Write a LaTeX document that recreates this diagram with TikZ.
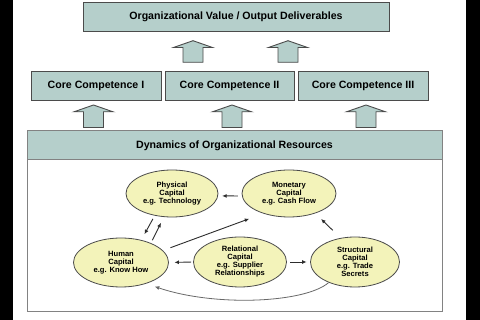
\documentclass[tikz,border=0pt]{standalone}
\usepackage{fontspec}
\setmainfont{Liberation Sans}
\usetikzlibrary{shapes.geometric,arrows.meta}
\definecolor{tealbox}{RGB}{181,207,203}
\definecolor{ellfill}{RGB}{243,243,186}
\definecolor{edgecol}{RGB}{75,75,75}
\definecolor{framecol}{RGB}{130,130,130}
\definecolor{arrcol}{RGB}{45,45,45}
\definecolor{curvecol}{RGB}{105,105,105}
\begin{document}
\begin{tikzpicture}[x=1pt,y=-1pt,
  box/.style={draw=edgecol,fill=tealbox,line width=0.9pt,inner sep=0pt,
    font=\fontsize{10.6}{12}\selectfont\bfseries},
  res/.style={ellipse,draw=edgecol,fill=ellfill,line width=0.8pt,inner sep=0pt,
    align=center,font=\fontsize{7.6}{8}\selectfont\bfseries},
  arr/.style={draw=arrcol,line width=0.9pt,-{Latex[length=4.5pt,width=4pt]}},
  blkarrow/.style={draw=edgecol,fill=tealbox,line width=0.9pt},
  pics/blockup/.style={code={
    \draw[blkarrow] (-10,#1) -- (-10,6.8) -- (-19.5,6.8) -- (0,0) -- (19.5,6.8)
      -- (10,6.8) -- (10,#1) -- cycle;}}
]
\useasboundingbox (0,0) rectangle (480,320);
\fill[white] (0,0) rectangle (480,320);
\fill[black] (0,0) rectangle (13,320);
\fill[black] (466,0) rectangle (480,320);

% top output box
\node[box,minimum width=306pt,minimum height=29pt] (out) at (236,16.5)
  {Organizational Value / Output Deliverables};

% upper block arrows
\pic at (193,40.7) {blockup=21.6};
\pic at (288,40.7) {blockup=21.6};

% core competences
\node[box,minimum width=130pt,minimum height=29pt] (c1) at (96,85.5) {Core Competence I};
\node[box,minimum width=129pt,minimum height=29pt] (c2) at (229.5,85.5) {Core Competence II};
\node[box,minimum width=130pt,minimum height=29pt] (c3) at (363,85.5) {Core Competence III};

% lower block arrows
\pic at (93.5,105) {blockup=22.5};
\pic at (232,105) {blockup=22.5};
\pic at (366,105) {blockup=22.5};

% dynamics frame
\node[draw=framecol,line width=1pt,minimum width=415pt,minimum height=181pt,inner sep=0pt]
  (dyn) at (234.5,221.5) {};
\node[box,draw=framecol,line width=1pt,minimum width=415pt,minimum height=29pt]
  (dynh) at (234.5,145.5) {Dynamics of Organizational Resources};

% resources
\node[res,minimum width=92pt,minimum height=47pt] (phy) at (172,193.5)
  {Physical\\Capital\\e.g. Technology};
\node[res,minimum width=94pt,minimum height=47pt] (mon) at (289,193.5)
  {Monetary\\Capital\\e.g. Cash Flow};
\node[res,minimum width=95pt,minimum height=49pt] (hum) at (121,262.5)
  {Human\\Capital\\e.g. Know How};
\node[res,minimum width=93pt,minimum height=50pt] (rel) at (240,262)
  {Relational\\Capital\\e.g. Supplier\\Relationships};
\node[res,minimum width=89pt,minimum height=50pt] (str) at (355,262)
  {Structural\\Capital\\e.g. Trade\\Secrets};

% connectors
\draw[arr,shorten <=4pt,shorten >=4pt] (mon.183) -- (phy.-3);
\draw[arr,shorten <=3.7pt,shorten >=6.6pt] (phy.232) -- (hum.48);
\draw[arr,shorten <=3.2pt,shorten >=6.5pt] (hum.33) -- (phy.251);
\draw[arr,shorten <=8pt,shorten >=15pt] (hum.16) -- (mon.218);
\draw[arr,shorten <=10.8pt,shorten >=8pt] (str.121) -- (mon.323);
\draw[arr,shorten <=2pt,shorten >=5.5pt] (rel.west) -- (hum.east);
\draw[arr,shorten <=3.5pt,shorten >=3.5pt] (rel.east) -- (str.west);
\draw[arr,draw=curvecol,line width=0.8pt,shorten >=9pt]
  (str.218) .. controls (305,303) and (215,307) .. (hum.320);
\end{tikzpicture}
\end{document}
